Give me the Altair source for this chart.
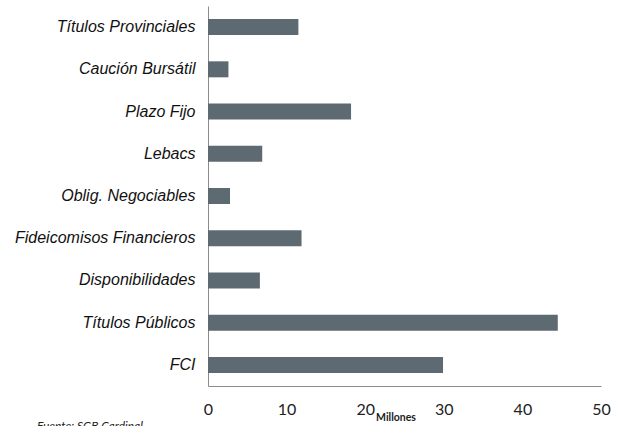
import altair as alt
import pandas as pd

categories = ["Títulos Provinciales", "Caución Bursátil", "Plazo Fijo", "Lebacs",
              "Oblig. Negociables", "Fideicomisos Financieros", "Disponibilidades",
              "Títulos Públicos", "FCI"]
values = [11.5, 2.6, 18.2, 6.9, 2.8, 11.9, 6.6, 44.5, 29.9]
x_ticks = [0, 10, 20, 30, 40, 50]

df = pd.DataFrame({"cat": categories, "val": values})

bars = alt.Chart(df).mark_bar(color="#5E6A71", size=16).encode(
    x=alt.X("val:Q", scale=alt.Scale(domain=[0, 50], nice=False),
            axis=alt.Axis(title=None, values=x_ticks, grid=False, ticks=False,
                          domainColor="#8c8c8c", labelFont="Lato", labelFontSize=16,
                          labelColor="#222222", labelPadding=15, labelFlush=False)),
    y=alt.Y("cat:N", sort=categories,
            axis=alt.Axis(title=None, grid=False, ticks=False, domainColor="#8c8c8c",
                          labelFont="Liberation Sans", labelFontStyle="italic",
                          labelFontSize=16, labelColor="#111111", labelPadding=13,
                          labelLimit=300)),
)

millones = alt.Chart(pd.DataFrame({"t": ["Millones"]})).mark_text(
    font="Lato", fontWeight="bold", fontSize=10.5, align="center", baseline="middle",
    color="#222222"
).encode(text="t:N", x=alt.value(188), y=alt.value(32 + 380))

fuente = alt.Chart(pd.DataFrame({"t": ["Fuente: SGB Cardinal"]})).mark_text(
    font="Lato", fontStyle="italic", fontSize=12, align="left", baseline="top",
    color="#222222"
).encode(text="t:N", x=alt.value(37 - 208), y=alt.value(421 - 6))

chart = alt.layer(bars, millones, fuente).properties(
    width=393, height=380,
    autosize=alt.AutoSizeParams(type="none"),
    padding={"left": 208, "top": 6, "right": 20, "bottom": 40},
    background="white",
).configure_view(stroke=None)

chart.save("out.html", embed_options={"renderer": "svg", "actions": False})
